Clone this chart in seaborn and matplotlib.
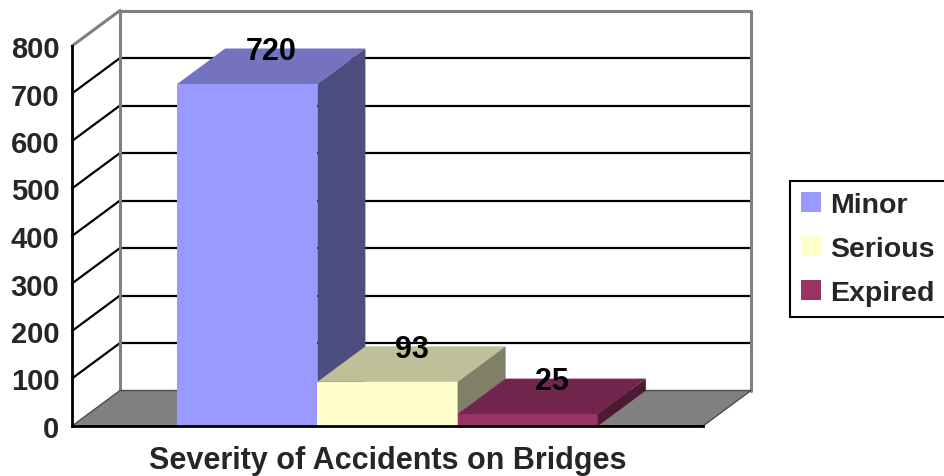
import matplotlib
matplotlib.use("Agg")
import matplotlib.pyplot as plt
from matplotlib.patches import Polygon, Patch
from matplotlib.transforms import offset_copy
import pandas as pd
import seaborn as sns

# Chart data
category = ["Severity of Accidents on Bridges"]
severity = ["Minor", "Serious", "Expired"]
counts = [720, 93, 25]
yticks = [0, 100, 200, 300, 400, 500, 600, 700, 800]

# Face colours of the 3D boxes: front, top (lit) and right side (shaded)
front_colors = ["#9999FF", "#FFFFCC", "#993366"]
top_colors = ["#7373BF", "#BFBF99", "#73264D"]
side_colors = ["#4D4D80", "#808066", "#4D1A33"]

sns.set_style("white")
plt.rcParams["font.family"] = ["Liberation Sans", "DejaVu Sans"]
plt.rcParams["font.weight"] = "bold"

W, H, DPI = 945, 477, 100
fig = plt.figure(figsize=(W / DPI, H / DPI), dpi=DPI)
ax_left, ax_bottom, ax_w, ax_h = 72, 50, 631, 380
ax = fig.add_axes([ax_left / W, ax_bottom / H, ax_w / W, ax_h / H])
ax.set_facecolor("none")

df = pd.DataFrame({
    "category": category * len(severity),
    "severity": severity,
    "count": counts,
})
sns.barplot(data=df, x="category", y="count", hue="severity",
            hue_order=severity, palette=front_colors, saturation=1,
            width=0.8, ax=ax, legend=False, edgecolor="none", linewidth=0)
bars = list(ax.patches)

xmin, xmax = -0.6, 0.6
ymin, ymax = yticks[0], yticks[-1]
ax.set_xlim(xmin, xmax)
ax.set_ylim(ymin, ymax)

# depth of the 3D box in pixels, converted to data units
depth_x_px, depth_y_px = 48, 35.5
ddx = depth_x_px * (xmax - xmin) / ax_w
ddy = depth_y_px * (ymax - ymin) / ax_h

grey = "#808080"

# back wall and left wall with gridlines
for v in yticks:
    if v in (ymin, ymax):
        continue
    ax.plot([xmin + ddx, xmax + ddx], [v + ddy, v + ddy], color="black",
            lw=1.6, zorder=1, clip_on=False, solid_capstyle="butt")
    ax.plot([xmin, xmin + ddx], [v, v + ddy], color="black",
            lw=1.6, zorder=1, clip_on=False)
ax.plot([xmin + ddx, xmin + ddx, xmax + ddx, xmax + ddx],
        [ddy, ymax + ddy, ymax + ddy, ddy], color=grey, lw=2.2,
        zorder=1.5, clip_on=False)
ax.plot([xmin, xmin + ddx], [ymax, ymax + ddy], color=grey, lw=2.2,
        zorder=1.5, clip_on=False)

# floor
floor = Polygon([(xmin, 0), (xmax, 0), (xmax + ddx, ddy), (xmin + ddx, ddy)],
                closed=True, facecolor=grey, edgecolor="#4D4D4D", lw=1,
                zorder=2, clip_on=False)
ax.add_patch(floor)

# turn each flat bar into a box
for i, (p, value) in enumerate(zip(bars, counts)):
    x0, w, h = p.get_x(), p.get_width(), p.get_height()
    p.set_zorder(10 + 3 * i)
    p.set_clip_on(False)
    top = Polygon([(x0, h), (x0 + w, h), (x0 + w + ddx, h + ddy), (x0 + ddx, h + ddy)],
                  closed=True, facecolor=top_colors[i], edgecolor="none",
                  zorder=11 + 3 * i, clip_on=False)
    side = Polygon([(x0 + w, 0), (x0 + w + ddx, ddy), (x0 + w + ddx, h + ddy), (x0 + w, h)],
                   closed=True, facecolor=side_colors[i], edgecolor="none",
                   zorder=11 + 3 * i, clip_on=False)
    ax.add_patch(top)
    ax.add_patch(side)
    ax.text(x0 + w / 2, h, f"{value}",
            transform=offset_copy(ax.transData, fig, x=depth_x_px / 2, y=25, units="dots"),
            ha="center", va="baseline", fontsize=22, fontweight="bold",
            color="black", zorder=60)

# axes
for s in ("top", "right"):
    ax.spines[s].set_visible(False)
for s in ("left", "bottom"):
    ax.spines[s].set_color("black")
    ax.spines[s].set_linewidth(2)
    ax.spines[s].set_zorder(50)
ax.set_yticks(yticks)
ax.set_yticklabels([str(t) for t in yticks])
ax.tick_params(axis="y", length=7, width=2, color="black", direction="out",
               labelsize=21, pad=2)
ax.set_xticks([0])
ax.set_xticklabels(category)
ax.set_xticks([xmin, xmax], minor=True)
ax.tick_params(axis="x", which="major", length=0, labelsize=22, pad=14)
ax.tick_params(axis="x", which="minor", length=8, width=2, color="black",
               direction="out")
ax.set_xlabel("")
ax.set_ylabel("")
for lab in ax.get_xticklabels() + ax.get_yticklabels():
    lab.set_fontweight("bold")

# legend
handles = [Patch(facecolor=c, edgecolor="none") for c in front_colors]
leg = fig.legend(handles, severity, loc="upper left",
                 bbox_to_anchor=(790 / W, 1 - 182 / H),
                 bbox_transform=fig.transFigure, frameon=True, fancybox=False,
                 edgecolor="black", framealpha=1, borderaxespad=0,
                 handlelength=0.7, handleheight=0.7, handletextpad=0.3,
                 labelspacing=0.62, borderpad=0.4,
                 prop={"weight": "bold", "size": 20.5})
leg.get_frame().set_linewidth(1.5)

fig.savefig("out.png", dpi=DPI)
